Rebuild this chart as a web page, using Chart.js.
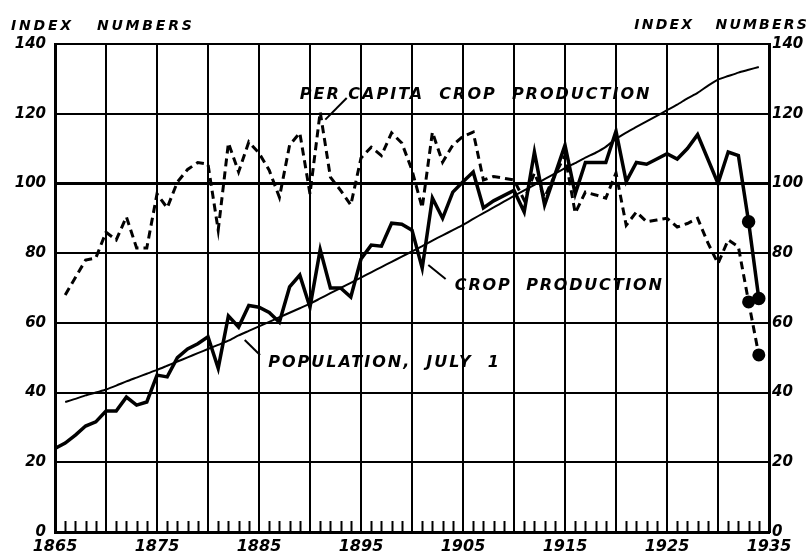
<!DOCTYPE html>
<html>
<head>
<meta charset="utf-8">
<script src="https://cdn.jsdelivr.net/npm/chart.js@4.4.0/dist/chart.umd.min.js"></script>
<style>
  body { margin: 0; background: #fff; }
  #wrap { width: 808px; height: 556px; }
</style>
</head>
<body>
<div id="wrap"><canvas id="chart" width="808" height="556"></canvas></div>
<script>
const years = [1865, 1866, 1867, 1868, 1869, 1870, 1871, 1872, 1873, 1874,
  1875, 1876, 1877, 1878, 1879, 1880, 1881, 1882, 1883, 1884,
  1885, 1886, 1887, 1888, 1889, 1890, 1891, 1892, 1893, 1894,
  1895, 1896, 1897, 1898, 1899, 1900, 1901, 1902, 1903, 1904,
  1905, 1906, 1907, 1908, 1909, 1910, 1911, 1912, 1913, 1914,
  1915, 1916, 1917, 1918, 1919, 1920, 1921, 1922, 1923, 1924,
  1925, 1926, 1927, 1928, 1929, 1930, 1931, 1932, 1933, 1934];

const cropProduction = [24, 25.5, 27.8, 30.4, 31.6, 34.7, 34.7, 38.7, 36.4, 37.3,
  45, 44.5, 50, 52.5, 54, 56, 47, 62, 58.8, 65,
  64.5, 63, 60.2, 70.3, 73.7, 64.5, 81, 70, 70, 67.4,
  78.3, 82.3, 82, 88.6, 88.3, 86.6, 75.7, 95.8, 90, 97.5,
  100.5, 103.3, 93, 95, 96.5, 98, 91.8, 109, 93.8, 102.4,
  111, 97, 106, 106, 106, 115, 100.5, 106, 105.5, 107,
  108.5, 107, 110, 114, 107, 100, 109, 108, 89, 67];

const perCapita = [null, 68, 73, 78, 78.6, 86, 83.8, 90.4, 81.5, 81.5,
  97, 93, 100.4, 104, 106, 105.5, 86.6, 111.6, 103.3, 111.9,
  108.7, 103.8, 96, 111, 114.5, 97, 120.5, 101.8, 98, 93.8,
  107.3, 110.4, 108, 114.5, 111.6, 103.8, 93, 114.7, 106.1, 111,
  113.5, 114.7, 101, 102, 101.5, 101, 95.2, 103, 96, 102.4,
  108, 91.5, 97.5, 96.7, 95.8, 103, 88, 91.8, 89, 89.5,
  90, 87.5, 88.5, 90, 83, 77, 83.8, 81.8, 66, 50.8];

const population = [null, 37.3, 38.2, 39.2, 40.0, 40.9, 42.0, 43.2, 44.3, 45.4,
  46.5, 47.7, 48.9, 50.1, 51.3, 52.5, 53.7, 54.9, 56.4, 57.7,
  59.0, 60.3, 61.6, 62.9, 64.2, 65.5, 67.0, 68.5, 70.0, 71.5,
  73.0, 74.5, 76.0, 77.5, 79.0, 80.5, 82.0, 83.6, 85.1, 86.6,
  88.1, 89.8, 91.5, 93.1, 94.8, 96.4, 98.0, 99.6, 101.2, 102.8,
  104.4, 105.8, 107.4, 108.8, 110.5, 112.8, 114.6, 116.2, 117.8, 119.4,
  121.0, 122.6, 124.4, 126.0, 128.0, 129.8, 130.8, 131.8, 132.6, 133.4];

// preliminary years shown with dots
const markedYears = [1933, 1934];
const yTicks = [0, 20, 40, 60, 80, 100, 120, 140];

const toXY = arr => years.map((yr, i) => ({ x: yr, y: arr[i] }));
const dotRadius = ctx => (ctx.raw && markedYears.includes(ctx.raw.x)) ? 5 : 0;

const LETTER = 'italic bold ';
const FAMILY = '"DejaVu Sans", sans-serif';

// small yearly ticks along the bottom and the hand-lettered labels
const decorPlugin = {
  id: 'decor',
  afterDraw(chart) {
    const { ctx, chartArea, scales } = chart;
    const x = scales.x, y = scales.y;
    ctx.save();
    ctx.strokeStyle = '#000';
    ctx.lineWidth = 2;
    years.forEach(yr => {
      if ((yr - 1865) % 5 === 0) return;
      const px = Math.round(x.getPixelForValue(yr)) + 0.5;
      ctx.beginPath();
      ctx.moveTo(px, chartArea.bottom);
      ctx.lineTo(px, chartArea.bottom - 11);
      ctx.stroke();
    });

    ctx.fillStyle = '#000';
    ctx.textBaseline = 'middle';
    ctx.font = LETTER + '14px ' + FAMILY;
    ctx.letterSpacing = '2.8px';
    ctx.textAlign = 'left';
    ctx.fillText('INDEX   NUMBERS', 11, 26);
    ctx.letterSpacing = '2.2px';
    ctx.textAlign = 'right';
    ctx.fillText('INDEX   NUMBERS', 809, 25);

    ctx.textAlign = 'left';
    ctx.font = LETTER + '16px ' + FAMILY;
    ctx.letterSpacing = '2px';
    ctx.fillText('PER CAPITA  CROP  PRODUCTION', x.getPixelForValue(1889.0), y.getPixelForValue(125.5));
    ctx.letterSpacing = '1.8px';
    ctx.fillText('CROP  PRODUCTION', x.getPixelForValue(1904.2), y.getPixelForValue(70.6));
    ctx.letterSpacing = '2px';
    ctx.fillText('POPULATION,  JULY  1', x.getPixelForValue(1885.9), y.getPixelForValue(48.4));

    ctx.lineWidth = 2;
    const leader = (x1, y1, x2, y2) => {
      ctx.beginPath();
      ctx.moveTo(x.getPixelForValue(x1), y.getPixelForValue(y1));
      ctx.lineTo(x.getPixelForValue(x2), y.getPixelForValue(y2));
      ctx.stroke();
    };
    leader(1893.6, 124.5, 1891.5, 118.3);
    leader(1901.6, 76.6, 1903.3, 72.6);
    leader(1883.6, 55.1, 1885.1, 50.8);
    ctx.restore();
  }
};

const chart = new Chart(document.getElementById('chart'), {
  type: 'line',
  data: {
    datasets: [
      {
        label: 'Crop production',
        data: toXY(cropProduction),
        borderColor: '#000',
        backgroundColor: '#000',
        borderWidth: 3.5,
        pointRadius: dotRadius,
        tension: 0
      },
      {
        label: 'Per capita crop production',
        data: toXY(perCapita),
        borderColor: '#000',
        backgroundColor: '#000',
        borderWidth: 3,
        borderDash: [8, 5],
        pointRadius: dotRadius,
        tension: 0
      },
      {
        label: 'Population, July 1',
        data: toXY(population),
        borderColor: '#000',
        borderWidth: 2,
        pointRadius: 0,
        tension: 0.2
      }
    ]
  },
  options: {
    responsive: false,
    animation: false,
    layout: { padding: { top: 44, left: 0, right: 0, bottom: 0 } },
    plugins: { legend: { display: false }, tooltip: { enabled: false } },
    scales: {
      x: {
        type: 'linear',
        min: 1865,
        max: 1935,
        afterFit: s => { s.height = 24; },
        afterBuildTicks: s => { s.ticks = years.concat([1935]).map(v => ({ value: v })); },
        ticks: {
          autoSkip: false,
          maxRotation: 0,
          padding: 5,
          color: '#000',
          font: { family: FAMILY, size: 16, style: 'italic', weight: 'bold' },
          callback: v => ((v - 1865) % 10 === 0 ? String(v) : '')
        },
        grid: {
          drawTicks: false,
          color: ctx => (ctx.tick && (ctx.tick.value - 1865) % 5 === 0 ? '#000' : 'rgba(0,0,0,0)'),
          lineWidth: 2
        },
        border: { color: '#000', width: 3 }
      },
      y: {
        position: 'left',
        min: 0,
        max: 140,
        afterFit: s => { s.width = 55; },
        afterBuildTicks: s => { s.ticks = yTicks.map(v => ({ value: v })); },
        ticks: {
          padding: 9,
          color: '#000',
          font: { family: FAMILY, size: 15, style: 'italic', weight: 'bold' }
        },
        grid: {
          drawTicks: false,
          color: '#000',
          lineWidth: ctx => (ctx.tick && ctx.tick.value === 100 ? 3 : 2)
        },
        border: { color: '#000', width: 3 }
      },
      y2: {
        position: 'right',
        min: 0,
        max: 140,
        afterFit: s => { s.width = 39; },
        afterBuildTicks: s => { s.ticks = yTicks.map(v => ({ value: v })); },
        ticks: {
          padding: 3,
          color: '#000',
          font: { family: FAMILY, size: 15, style: 'italic', weight: 'bold' }
        },
        grid: { display: false, drawTicks: false },
        border: { color: '#000', width: 3 }
      }
    }
  },
  plugins: [decorPlugin]
});
</script>
</body>
</html>
